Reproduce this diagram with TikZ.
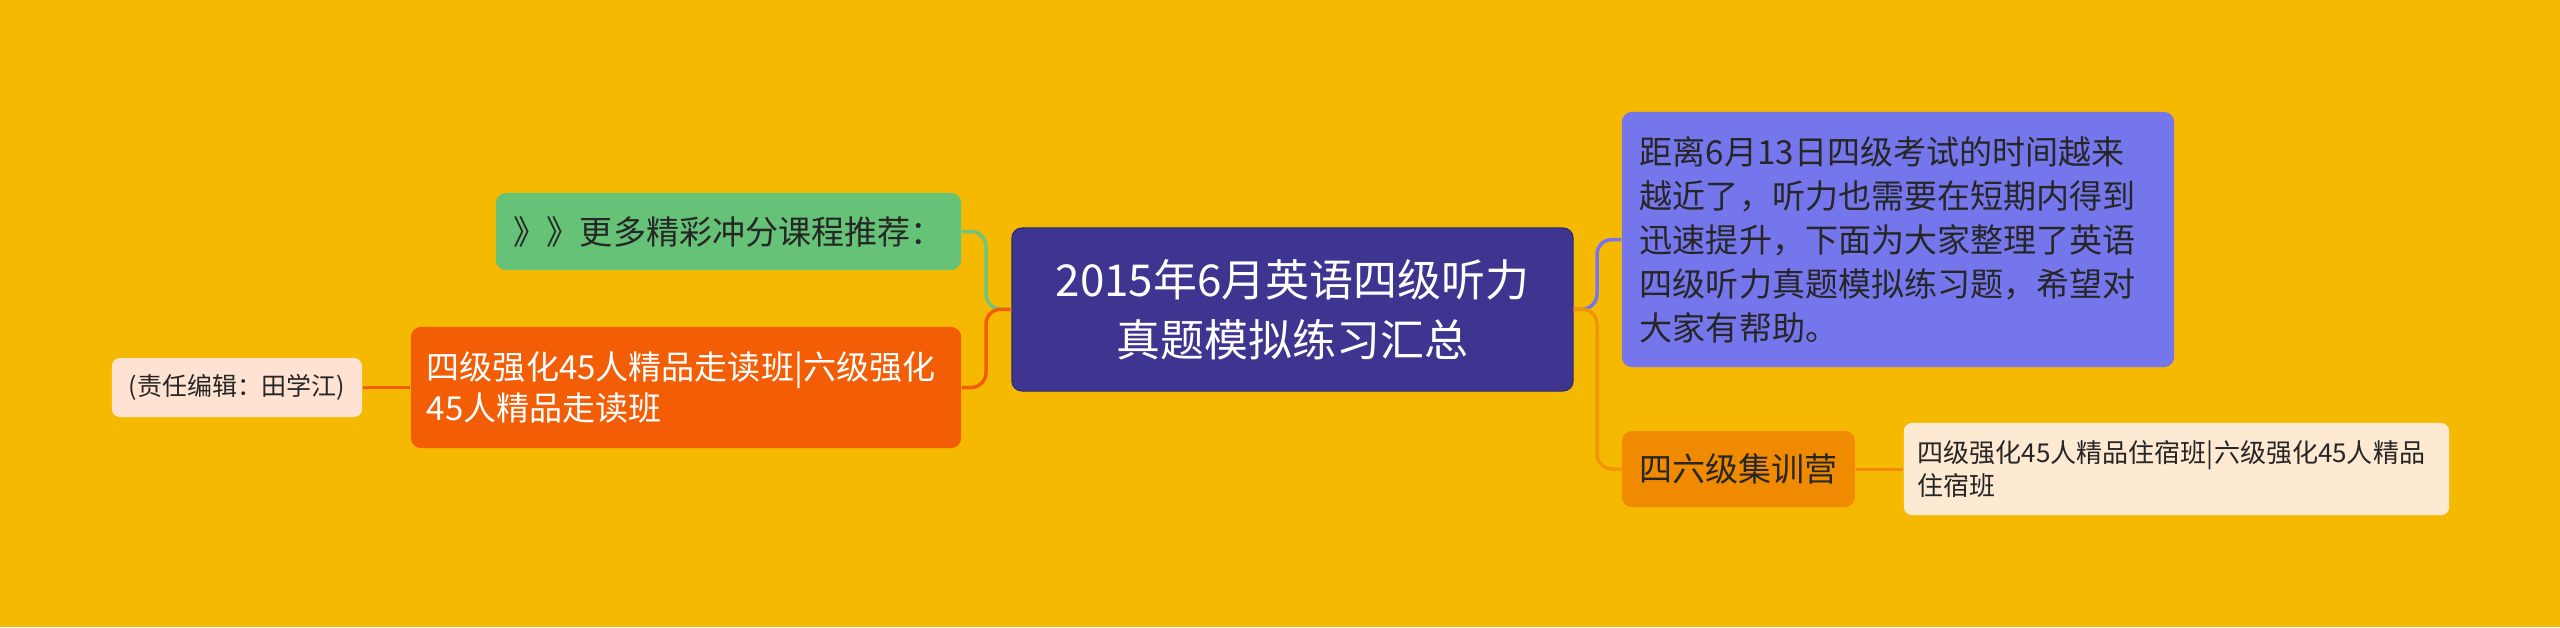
\documentclass[tikz,border=0pt]{standalone}
\usepackage{fontspec}
\usepackage{xcolor}
\setmainfont{Noto Sans CJK SC}

\definecolor{bgyellow}{HTML}{F6B902}
\definecolor{rootblue}{HTML}{3E3590}
\definecolor{rootedge}{HTML}{30296E}
\definecolor{leafgreen}{HTML}{66C276}
\definecolor{walkorange}{HTML}{F25D06}
\definecolor{editorpeach}{HTML}{FFE2D1}
\definecolor{intropurple}{HTML}{7676EC}
\definecolor{camporange}{HTML}{F08A00}
\definecolor{staypeach}{HTML}{FEE9D2}
\definecolor{darktext}{HTML}{262626}

\tikzset{
  box/.style={rounded corners=0.1cm, align=left, text=darktext},
  link/.style={line width=0.035cm, rounded corners=0.15cm},
}

\begin{document}
\begin{tikzpicture}[x=0.01cm, y=-0.01cm]
      % Background
      \fill[bgyellow] (0,0) rectangle (2560,627);
      \useasboundingbox (0,0) rectangle (2560,627);
      % Root
      \node[box, fill=rootblue, draw=rootedge, line width=0.01cm, text=white, align=center,
        minimum width=5.61cm, minimum height=1.63cm,
        font=\fontsize{12.5pt}{17pt}\selectfont] (root) at (1292.5,309.5)
        {2015年6月英语四级听力\\真题模拟练习汇总};
      % Left side
      \node[box, fill=leafgreen, minimum width=4.65cm, minimum height=0.77cm,
        inner xsep=0.18cm, text width=4.29cm,
        font=\fontsize{9.4pt}{12.5pt}\selectfont] (more) at (728.5,231.5)
        {》》更多精彩冲分课程推荐：};
      \node[box, fill=walkorange, text=white, minimum width=5.5cm, minimum height=1.21cm,
        inner xsep=0.16cm, text width=5.18cm,
        font=\fontsize{9.4pt}{11.4pt}\selectfont] (walk) at (686,387.5)
        {四级强化45人精品走读班|六级强化\\45人精品走读班};
      \node[box, fill=editorpeach, rounded corners=0.08cm, align=center,
        minimum width=2.5cm, minimum height=0.59cm,
        font=\fontsize{7.1pt}{9pt}\selectfont] (editor) at (237,387.5)
        {(责任编辑：田学江)};
      % Right side
      \node[box, fill=intropurple, minimum width=5.52cm, minimum height=2.55cm,
        inner xsep=0.18cm, text width=5.16cm,
        font=\fontsize{9.4pt}{12.5pt}\selectfont] (intro) at (1898,239.5)
        {距离6月13日四级考试的时间越来\\越近了，听力也需要在短期内得到\\迅速提升，下面为大家整理了英语\\四级听力真题模拟练习题，希望对\\大家有帮助。};
      \node[box, fill=camporange, align=center, minimum width=2.33cm, minimum height=0.76cm,
        font=\fontsize{9.4pt}{12.5pt}\selectfont] (camp) at (1738.5,469)
        {四六级集训营};
      \node[box, fill=staypeach, rounded corners=0.08cm, minimum width=5.45cm, minimum height=0.92cm,
        inner xsep=0.14cm, text width=5.17cm,
        font=\fontsize{7.4pt}{9.4pt}\selectfont] (stay) at (2176.5,469)
        {四级强化45人精品住宿班|六级强化45人精品\\住宿班};
      % Junctions
      \coordinate (lj) at (986,309);
      \coordinate (rj) at (1597,309);
      % Connectors
      \draw[link, leafgreen!95!white] (more.east) -| (lj) -- (root.west);
      \draw[link, walkorange] (walk.east) -| (lj) -- (root.west);
      \draw[link, intropurple] (root.east) -- (rj) |- (intro.west);
      \draw[link, camporange!90!yellow] (root.east) -- (rj) |- (camp.west);
      \draw[line width=0.025cm, walkorange] (walk.west) -- (editor.east);
      \draw[line width=0.03cm, camporange] (camp.east) -- (stay.west);
    \end{tikzpicture}
\end{document}
